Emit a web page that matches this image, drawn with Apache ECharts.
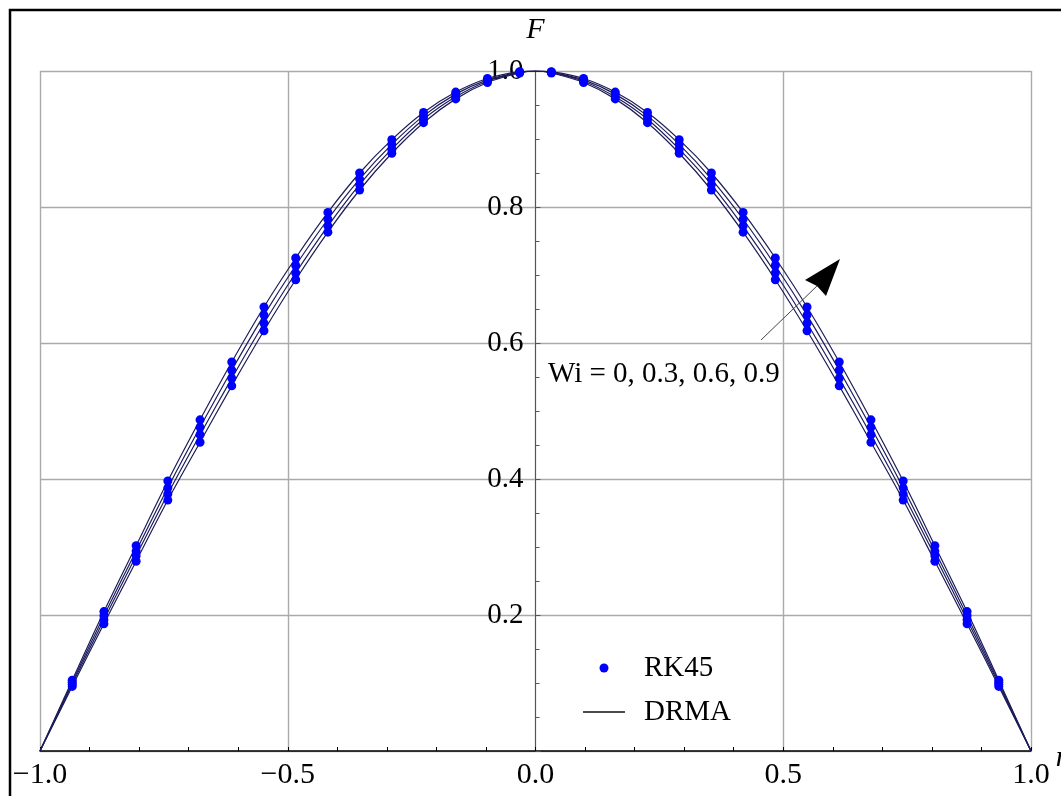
<!DOCTYPE html>
<html>
<head>
<meta charset="utf-8">
<script src="https://cdn.jsdelivr.net/npm/echarts@6/dist/echarts.min.js"></script>
<style>
  html, body { margin: 0; padding: 0; background: #fff; }
  #root { width: 1061px; height: 796px; }
</style>
</head>
<body>
<div id="root"></div>
<script>
// dot positions (eta) of the RK45 solution
const dotX = [-0.935, -0.871, -0.806, -0.742, -0.677, -0.613, -0.548, -0.484, -0.419, -0.355,
              -0.290, -0.226, -0.161, -0.097, -0.032, 0.032, 0.097, 0.161, 0.226, 0.290,
              0.355, 0.419, 0.484, 0.548, 0.613, 0.677, 0.742, 0.806, 0.871, 0.935]

// F for each Wi
const fWi0 = [0.095, 0.187, 0.279, 0.369, 0.454, 0.537, 0.618, 0.693, 0.763, 0.825,
              0.879, 0.924, 0.959, 0.983, 0.997, 0.997, 0.983, 0.959, 0.924, 0.879,
              0.825, 0.763, 0.693, 0.618, 0.537, 0.454, 0.369, 0.279, 0.187, 0.095]
const fWi03 = [0.098, 0.193, 0.287, 0.378, 0.465, 0.548, 0.629, 0.703, 0.772, 0.833,
               0.885, 0.929, 0.962, 0.985, 0.998, 0.998, 0.985, 0.962, 0.929, 0.885,
               0.833, 0.772, 0.703, 0.629, 0.548, 0.465, 0.378, 0.287, 0.193, 0.098]
const fWi06 = [0.101, 0.199, 0.294, 0.387, 0.476, 0.560, 0.641, 0.714, 0.782, 0.841,
               0.892, 0.934, 0.966, 0.987, 0.998, 0.998, 0.987, 0.966, 0.934, 0.892,
               0.841, 0.782, 0.714, 0.641, 0.560, 0.476, 0.387, 0.294, 0.199, 0.101]
const fWi09 = [0.104, 0.205, 0.302, 0.397, 0.487, 0.572, 0.653, 0.725, 0.792, 0.850,
               0.899, 0.939, 0.969, 0.989, 0.999, 0.999, 0.989, 0.969, 0.939, 0.899,
               0.850, 0.792, 0.725, 0.653, 0.572, 0.487, 0.397, 0.302, 0.205, 0.104]

// wall and centre values shared by all DRMA curves
const edgeX = [-1, 0, 1]
const edgeF = [0, 1, 0]

const xTicks = [-1.0, -0.5, 0.0, 0.5, 1.0]
const yTicks = [0.2, 0.4, 0.6, 0.8, 1.0]

const allF = [fWi0, fWi03, fWi06, fWi09]
const serif = "'Liberation Serif', 'Times New Roman', serif"

const W = 1061, H = 796
const gridL = 40, gridR = 30

function curve(f) {
    const pts = [[edgeX[0], edgeF[0]]]
    for (let i = 0; i < 15; i++) pts.push([dotX[i], f[i]])
    pts.push([edgeX[1], edgeF[1]])
    for (let i = 15; i < dotX.length; i++) pts.push([dotX[i], f[i]])
    pts.push([edgeX[2], edgeF[2]])
    return pts
}

const dots = []
for (let f of allF) {
    for (let i = 0; i < dotX.length; i++) dots.push([dotX[i], f[i]])
}

const lineSeries = allF.map(f => ({
    name: 'DRMA',
    type: 'line',
    data: curve(f),
    symbol: 'none',
    smooth: 0.3,
    lineStyle: { color: '#1c1c5a', width: 1.2 },
    itemStyle: { color: '#1c1c5a' },
    z: 3
}))

const chart = echarts.init(document.getElementById('root'))

const option = {
    animation: false,
    backgroundColor: '#fff',
    grid: { left: gridL, right: gridR, top: 71, bottom: 45, outerBoundsMode: 'none', containLabel: false },
    legend: {
        left: 578,
        top: 648,
        orient: 'vertical',
        itemWidth: 42,
        itemHeight: 9,
        itemGap: 14,
        symbolKeepAspect: true,
        textStyle: { fontFamily: serif, fontSize: 29, color: '#000', lineHeight: 30, padding: [0, 0, 0, 14] },
        data: [
            { name: 'RK45', icon: 'circle' },
            { name: 'DRMA', icon: 'path://M0,0H42V1.3H0Z', itemStyle: { color: '#111' } }
        ]
    },
    xAxis: {
        type: 'value',
        min: -1,
        max: 1,
        interval: 0.5,
        name: 'η',
        nameLocation: 'end',
        nameGap: 20,
        nameTextStyle: { fontFamily: serif, fontSize: 30, fontStyle: 'italic', color: '#000', verticalAlign: 'top', padding: [-8, 0, 0, 0] },
        axisLine: { onZero: false, lineStyle: { color: '#000', width: 1.5 } },
        axisTick: { show: true, inside: true, length: 4, lineStyle: { color: '#000' } },
        minorTick: { show: true, splitNumber: 5, length: 4, lineStyle: { color: '#000' } },
        axisLabel: {
            margin: 9,
            fontFamily: serif,
            fontSize: 30,
            color: '#000',
            showMinLabel: true,
            showMaxLabel: true,
            hideOverlap: false,
            formatter: v => {
                const t = xTicks.find(x => Math.abs(x - v) < 1e-9)
                return t === undefined ? '' : t.toFixed(1).replace('-', '\u2212')
            }
        },
        splitLine: { show: true, lineStyle: { color: '#aaa', width: 1.4 } }
    },
    yAxis: {
        type: 'value',
        min: 0,
        max: 1,
        interval: 0.2,
        position: 'left',
        // put the axis on eta = 0, the middle of the plot
        offset: -(W - gridL - gridR) / 2,
        name: 'F',
        nameLocation: 'end',
        nameGap: 26,
        nameTextStyle: { fontFamily: serif, fontSize: 30, fontStyle: 'italic', color: '#000', align: 'center' },
        axisLine: { show: true, onZero: false, lineStyle: { color: '#555', width: 1 } },
        axisTick: { show: true, inside: true, length: 5, lineStyle: { color: '#555' } },
        minorTick: { show: true, splitNumber: 4, length: 4, lineStyle: { color: '#555' } },
        axisLabel: {
            margin: 12,
            fontFamily: serif,
            fontSize: 29,
            color: '#000',
            formatter: v => {
                const t = yTicks.find(y => Math.abs(y - v) < 1e-9)
                return t === undefined ? '' : t.toFixed(1)
            }
        },
        splitLine: { show: true, lineStyle: { color: '#aaa', width: 1.4 } }
    },
    series: [
        ...lineSeries,
        {
            name: 'RK45',
            type: 'scatter',
            data: dots,
            symbol: 'circle',
            symbolSize: 9,
            itemStyle: { color: '#0000ff', opacity: 1 },
            z: 5
        }
    ],
    graphic: [
        {
            type: 'rect',
            shape: { x: 10, y: 10, width: 1100, height: 850 },
            style: { fill: 'none', stroke: '#000', lineWidth: 2.5 },
            z: 10
        },
        {
            type: 'line',
            shape: { x1: 761, y1: 340, x2: 818, y2: 285 },
            style: { stroke: '#444', lineWidth: 1 },
            z: 10
        },
        {
            type: 'polygon',
            shape: { points: [[840, 259], [805, 280], [817, 286], [826, 296]] },
            style: { fill: '#000' },
            z: 10
        },
        {
            type: 'text',
            x: 548,
            y: 374,
            style: {
                text: 'Wi = 0, 0.3, 0.6, 0.9',
                fontFamily: serif,
                fontSize: 29,
                fill: '#000',
                verticalAlign: 'middle'
            },
            z: 10
        }
    ]
}

chart.setOption(option)
</script>
</body>
</html>
